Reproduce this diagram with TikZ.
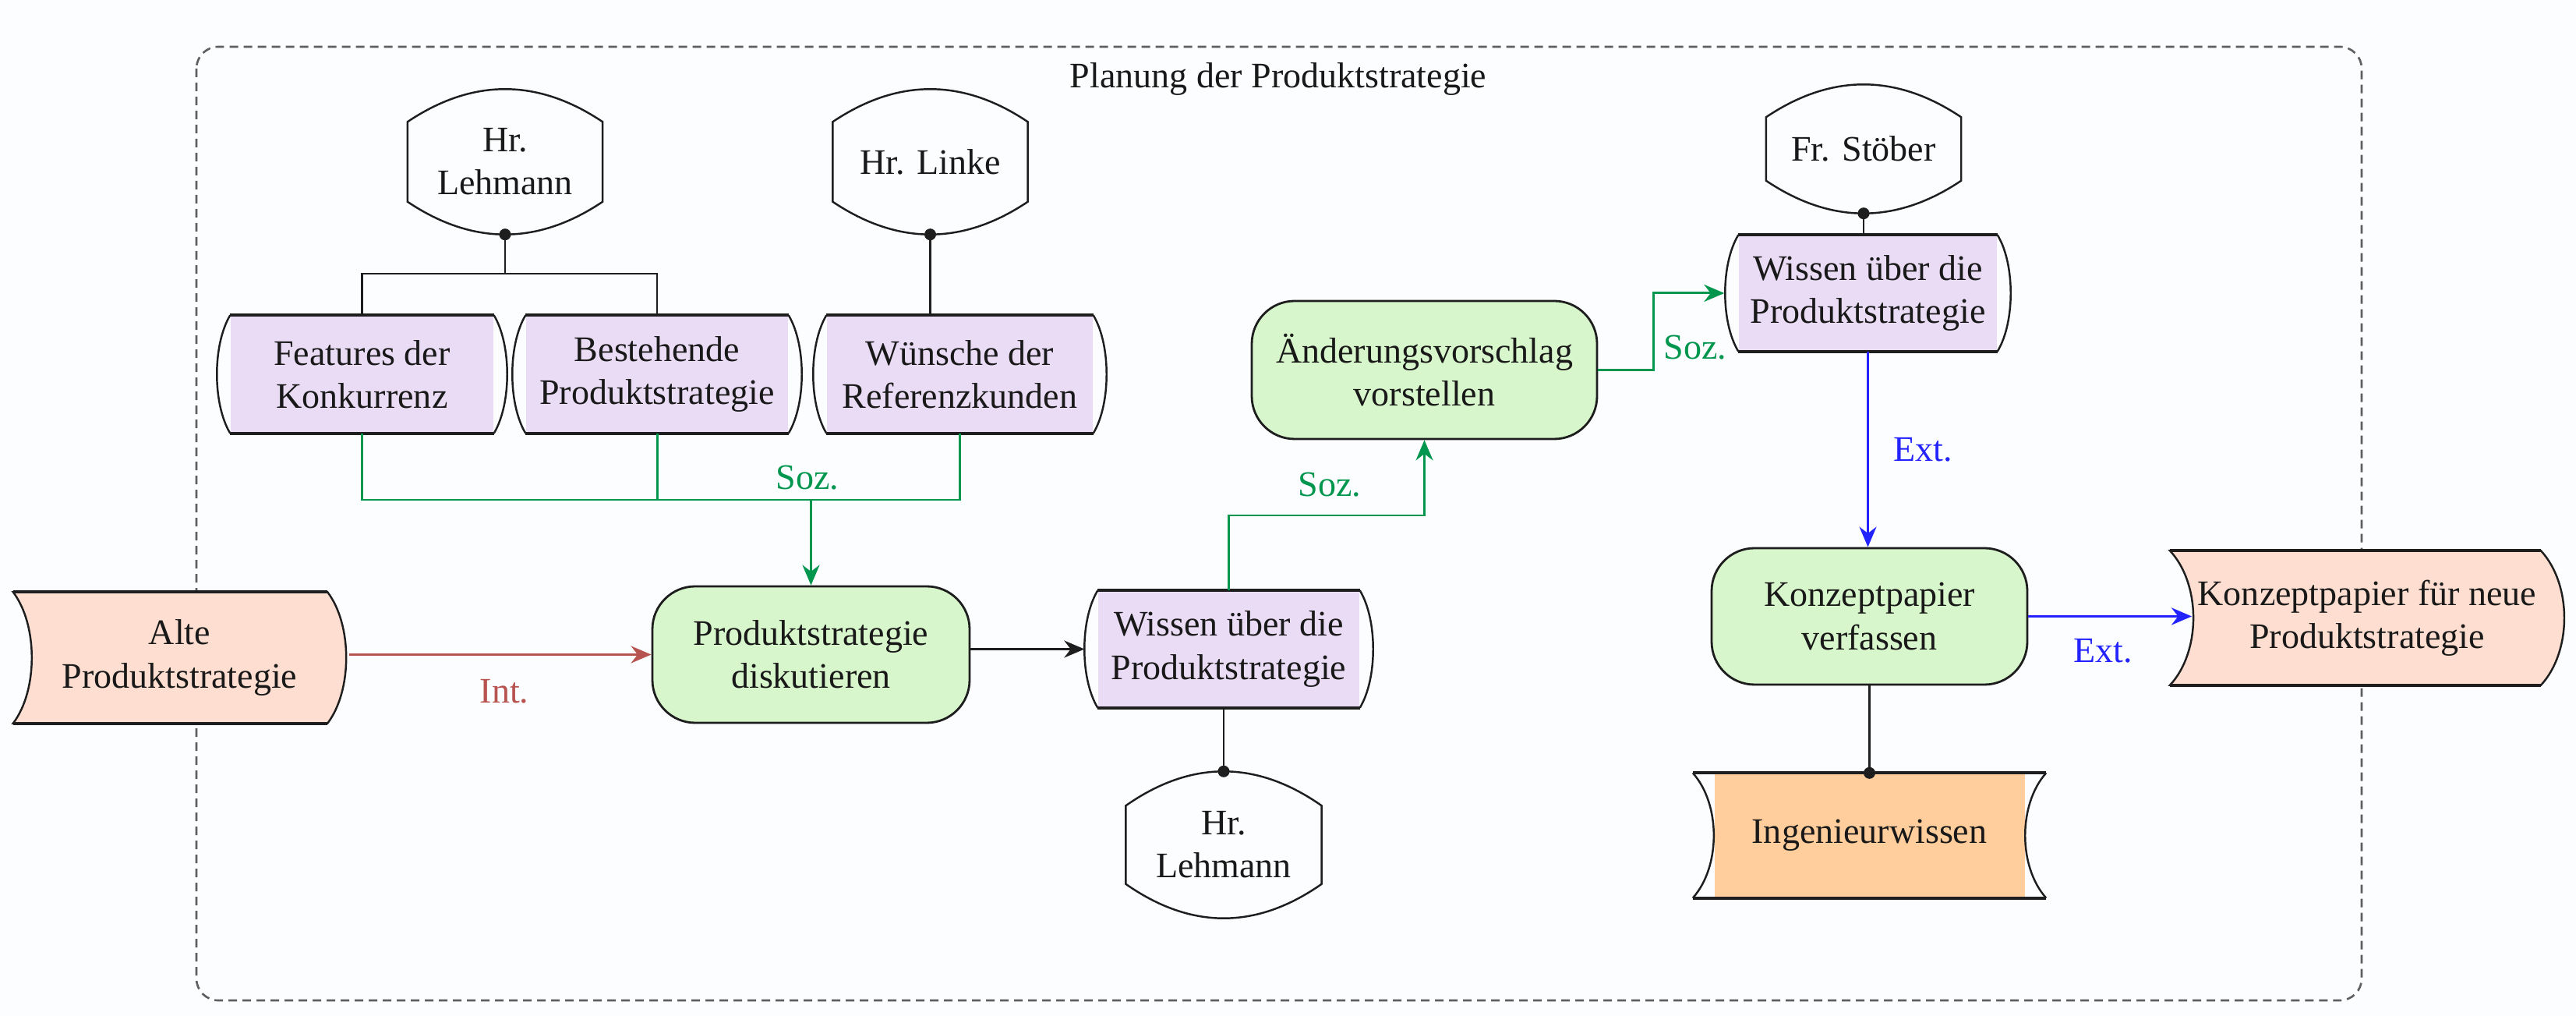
\documentclass[tikz,border=0pt]{standalone}
\usepackage{fontspec}
\setmainfont{Liberation Serif}
\usetikzlibrary{calc,arrows.meta}

\definecolor{paperbg}{RGB}{251,253,254}
\definecolor{lavfill}{RGB}{234,220,245}
\definecolor{greenfill}{RGB}{216,246,203}
\definecolor{peachfill}{RGB}{253,222,208}
\definecolor{orangefill}{RGB}{255,206,156}
\definecolor{sozgreen}{RGB}{0,150,78}
\definecolor{intred}{RGB}{184,84,80}
\definecolor{extblue}{RGB}{35,35,255}
\definecolor{inkline}{RGB}{30,30,30}
\definecolor{framegray}{RGB}{95,95,95}

\pgfdeclarelayer{paper}
\pgfdeclarelayer{fills}
\pgfsetlayers{paper,fills,main}

\tikzset{
  every node/.style={font=\fontsize{13.1}{15.7}\selectfont, text=black!90, inner sep=0pt},
  person/.style={minimum width=2.49cm, minimum height=1.85cm, align=center},
  knowbox/.style={fill=lavfill, minimum height=1.5cm, align=center},
  taskbox/.style={draw=inkline, line width=0.8pt, fill=greenfill, rounded corners=0.55cm,
                  minimum width=4.07cm, minimum height=1.75cm, align=center},
  docbox/.style={align=center},
  ingbox/.style={fill=orangefill, minimum width=3.98cm, minimum height=1.59cm, align=center},
  outl/.style={draw=inkline, line width=0.7pt},
  edgeline/.style={draw=inkline, line width=1.05pt},
  link/.style={draw=inkline, line width=0.75pt},
  arrowtip/.style={-{Stealth[length=2.6mm,width=2.2mm]}},
  sozline/.style={draw=sozgreen, line width=0.85pt},
  sozarrow/.style={sozline, arrowtip},
  intarrow/.style={draw=intred, line width=0.9pt, arrowtip},
  extthin/.style={draw=extblue, line width=0.6pt, arrowtip},
  extthick/.style={draw=extblue, line width=1.1pt, arrowtip},
  blkarrow/.style={draw=inkline, line width=0.8pt, arrowtip},
  lab/.style={anchor=base},
  joint/.style={fill=inkline},
  frame/.style={draw=framegray, line width=0.75pt, dash pattern=on 0.11cm off 0.07cm, rounded corners=0.28cm}
}

% knowledge object: straight top and bottom, both sides bulging outwards
\newcommand\knowOutline[1]{%
  \draw[outl] (#1.north east)
    .. controls ($(#1.north east)!0.25!(#1.south east)+(0.227,0)$)
       and ($(#1.north east)!0.75!(#1.south east)+(0.227,0)$) .. (#1.south east)
    (#1.south west)
    .. controls ($(#1.north west)!0.75!(#1.south west)+(-0.227,0)$)
       and ($(#1.north west)!0.25!(#1.south west)+(-0.227,0)$) .. (#1.north west);
  \draw[edgeline] (#1.north west) -- (#1.north east) (#1.south west) -- (#1.south east);}

% person: vertical sides, arched top and bottom (#2 = arch height in cm)
\newcommand\personOutline[2]{%
  \draw[outl] ([yshift=-#2cm]#1.north west)
    .. controls ($(#1.north west)!0.3333!(#1.north east)+(0,{#2/3})$)
       and ($(#1.north west)!0.6667!(#1.north east)+(0,{#2/3})$) .. ([yshift=-#2cm]#1.north east)
    -- ([yshift=#2cm]#1.south east)
    .. controls ($(#1.south west)!0.6667!(#1.south east)+(0,{-#2/3})$)
       and ($(#1.south west)!0.3333!(#1.south east)+(0,{-#2/3})$) .. ([yshift=#2cm]#1.south west)
    -- cycle;}

% document: both sides curving to the right (#2 = half offset in cm, #3 = fill)
\newcommand\waveShape[3]{%
  \begin{pgfonlayer}{fills}
  \filldraw[outl, fill=#3] ([xshift=-#2cm]#1.north west) -- ([xshift=-#2cm]#1.north east)
    .. controls ($(#1.north east)!0.25!(#1.south east)+({5*#2/3},0)$)
       and ($(#1.north east)!0.75!(#1.south east)+({5*#2/3},0)$) .. ([xshift=-#2cm]#1.south east)
    -- ([xshift=-#2cm]#1.south west)
    .. controls ($(#1.north west)!0.75!(#1.south west)+({5*#2/3},0)$)
       and ($(#1.north west)!0.25!(#1.south west)+({5*#2/3},0)$) .. ([xshift=-#2cm]#1.north west)
    -- cycle;
  \draw[edgeline] ([xshift=-#2cm]#1.north west) -- ([xshift=-#2cm]#1.north east)
                  ([xshift=-#2cm]#1.south west) -- ([xshift=-#2cm]#1.south east);
  \end{pgfonlayer}}

% stored knowledge: both sides curving inwards (#2 = overhang in cm)
\newcommand\concaveOutline[2]{%
  \draw[outl] ([xshift=#2cm]#1.north east)
    .. controls ($(#1.north east)!0.25!(#1.south east)+({-#2/3},0)$)
       and ($(#1.north east)!0.75!(#1.south east)+({-#2/3},0)$) .. ([xshift=#2cm]#1.south east)
    ([xshift=-#2cm]#1.south west)
    .. controls ($(#1.north west)!0.75!(#1.south west)+({#2/3},0)$)
       and ($(#1.north west)!0.25!(#1.south west)+({#2/3},0)$) .. ([xshift=-#2cm]#1.north west);
  \draw[edgeline] ([xshift=-#2cm]#1.north west) -- ([xshift=#2cm]#1.north east)
                  ([xshift=-#2cm]#1.south west) -- ([xshift=#2cm]#1.south east);}

\begin{document}
\begin{tikzpicture}
\useasboundingbox (0,0) rectangle (33.05,-13.03);
\begin{pgfonlayer}{paper}
  \fill[paperbg] (0,0) rectangle (33.05,-13.03);
  \draw[frame] (2.52,-0.60) rectangle (30.30,-12.83);
\end{pgfonlayer}

\node[anchor=base] (title) at (16.40,-1.13) {Planung der Produktstrategie};

% persons
\node[person] (lehA) at (6.48,-2.075) {Hr.\\Lehmann};
\node[person] (linke) at (11.935,-2.075) {Hr. Linke};
\node[person, minimum height=1.64cm] (stoeber) at (23.91,-1.91) {Fr. Stöber};
\node[person, minimum width=2.50cm, minimum height=1.87cm] (lehB) at (15.70,-10.835) {Hr.\\Lehmann};

% knowledge objects
\node[knowbox, minimum width=3.37cm] (feat) at (4.645,-4.80) {Features der\\Konkurrenz};
\node[knowbox, minimum width=3.36cm] (best) at (8.43,-4.80) {Bestehende\\Produktstrategie};
\node[knowbox, minimum width=3.41cm] (wuen) at (12.315,-4.80) {Wünsche der\\Referenzkunden};
\node[knowbox, minimum width=3.35cm, minimum height=1.49cm] (wissB) at (15.765,-8.325) {Wissen über die\\Produktstrategie};
\node[knowbox, minimum width=3.31cm, minimum height=1.48cm] (wissC) at (23.965,-3.76) {Wissen über die\\Produktstrategie};

% documents
\node[docbox, minimum width=4.02cm, minimum height=1.67cm] (alte) at (2.305,-8.435) {Alte\\Produktstrategie};
\node[docbox, minimum width=4.745cm, minimum height=1.71cm] (kfn) at (30.37,-7.925) {Konzeptpapier für neue\\Produktstrategie};

% tasks
\node[taskbox] (dis) at (10.405,-8.395) {Produktstrategie\\diskutieren};
\node[taskbox, minimum width=4.43cm, minimum height=1.77cm] (aend) at (18.275,-4.745) {Änderungsvorschlag\\vorstellen};
\node[taskbox, minimum width=4.05cm] (kv) at (23.985,-7.905) {Konzeptpapier\\verfassen};

% stored knowledge
\node[ingbox] (ing) at (23.985,-10.715) {Ingenieurwissen};

% outlines
\personOutline{lehA}{0.42}
\personOutline{linke}{0.42}
\personOutline{stoeber}{0.42}
\personOutline{lehB}{0.44}
\knowOutline{feat}
\knowOutline{best}
\knowOutline{wuen}
\knowOutline{wissB}
\knowOutline{wissC}
\waveShape{alte}{0.12}{peachfill}
\waveShape{kfn}{0.15}{peachfill}
\concaveOutline{ing}{0.27}

% helper points
\coordinate (jA) at (6.48,-3.51);
\coordinate (sozBar) at (10.42,-6.41);
\coordinate (jB) at (17.0,-6.61);
\coordinate (jC) at (21.21,0);
\coordinate (alteR) at ([xshift=1.6mm]alte.east);
\coordinate (wissBL) at ([xshift=-1.7mm]wissB.west);
\coordinate (wissCL) at ([xshift=-1.8mm]wissC.west);
\coordinate (kfnL) at ([xshift=1.3mm]kfn.west);

% person links
\draw[link] (lehA.south) -- (jA);
\draw[link] (feat.north) |- (jA) -| (best.north);
\fill[joint] (lehA.south) circle (0.075);
\draw[link] (linke.south) -- (linke.south |- wuen.north);
\fill[joint] (linke.south) circle (0.075);
\draw[link] (stoeber.south) -- (stoeber.south |- wissC.north);
\fill[joint] (stoeber.south) circle (0.075);
\draw[link] (wissB.south -| lehB.north) -- (lehB.north);
\fill[joint] (lehB.north) circle (0.075);
\draw[link] (kv.south) -- (kv.south |- ing.north);
\fill[joint] (kv.south |- ing.north) circle (0.075);

% socialisation
\draw[sozline] (feat.south) |- (sozBar) -| (wuen.south);
\draw[sozline] (best.south) -- (best.south |- sozBar);
\draw[sozarrow] (sozBar -| dis.north) -- (dis.north);
\node[lab, text=sozgreen] (soz1) at (10.36,-6.28) {Soz.};
\draw[sozarrow] (wissB.north) |- (jB) -| (aend.south);
\node[lab, text=sozgreen] (soz2) at (17.06,-6.37) {Soz.};
\draw[sozarrow] (aend.east) -| (jC |- wissCL) -- (wissCL);
\node[lab, text=sozgreen] (soz3) at (21.75,-4.61) {Soz.};

% internalisation
\draw[intarrow] (alteR |- dis.west) -- (dis.west);
\node[lab, text=intred] (int1) at (6.47,-9.02) {Int.};

% combination of tasks
\draw[blkarrow] (dis.east |- wissBL) -- (wissBL);

% externalisation
\draw[extthin] (wissC.south) -- (wissC.south |- kv.north);
\node[lab, text=extblue] (ext1) at (24.67,-5.92) {Ext.};
\draw[extthick] (kv.east) -- (kfnL |- kv.east);
\node[lab, text=extblue] (ext2) at (26.98,-8.50) {Ext.};
\end{tikzpicture}
\end{document}
